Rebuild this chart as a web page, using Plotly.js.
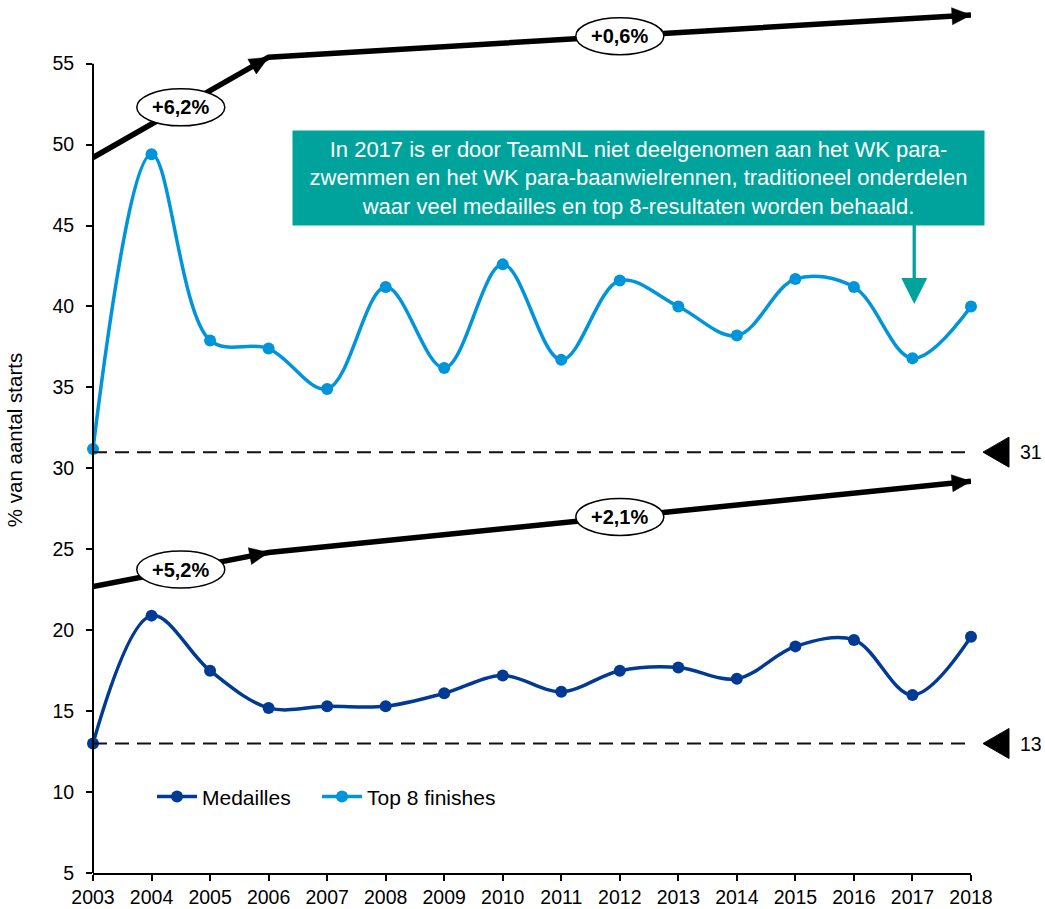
<!DOCTYPE html>
<html>
<head>
<meta charset="utf-8">
<script src="https://cdn.plot.ly/plotly-3.0.1.min.js"></script>
<style>html,body{margin:0;padding:0;background:#fff;}#chart{width:1045px;height:909px;}</style>
</head>
<body>
<div id="chart"></div>
<script>
// ---- data ----
const years = [2003, 2004, 2005, 2006, 2007, 2008, 2009, 2010, 2011, 2012, 2013, 2014, 2015, 2016, 2017, 2018];
const medailles = [13.0, 20.9, 17.5, 15.2, 15.3, 15.3, 16.1, 17.2, 16.2, 17.5, 17.7, 17.0, 19.0, 19.4, 16.0, 19.6];
const top8 = [31.2, 49.4, 37.9, 37.4, 34.9, 41.2, 36.2, 42.6, 36.7, 41.6, 40.0, 38.2, 41.7, 41.2, 36.8, 40.0];
const seriesNames = ['Medailles', 'Top 8 finishes'];

const trendYears = [2003, 2006, 2018];
const topTrend = [49.2, 55.4, 58.0];
const bottomTrend = [22.7, 24.8, 29.2];
const topTrendLabels = ['+6,2%', '+0,6%'];
const bottomTrendLabels = ['+5,2%', '+2,1%'];

const thresholds = [31, 13];

const yTicks = [5, 10, 15, 20, 25, 30, 35, 40, 45, 50, 55];
const yTitle = '% van aantal starts';
const noteText = 'In 2017 is er door TeamNL niet deelgenomen aan het WK para-<br>zwemmen en het WK para-baanwielrennen, traditioneel onderdelen<br>waar veel medailles en top 8-resultaten worden behaald.';

// ---- styles / geometry ----
const FONT = 'Liberation Sans, Arial, sans-serif';
const darkBlue = '#003A94';
const lightBlue = '#0094DB';
const teal = '#00A39C';
const W = 1045, H = 909;
const margin = {l: 93, r: 74, t: 7, b: 36};
const xRange = [years[0], years[years.length - 1]];
const yRange = [5, 58.5];
const pxPerX = (W - margin.l - margin.r) / (xRange[1] - xRange[0]);
const pxPerY = (H - margin.t - margin.b) / (yRange[1] - yRange[0]);

const traces = [
  {
    x: years, y: medailles, name: seriesNames[0], type: 'scatter', mode: 'lines+markers', legend: 'legend',
    line: {color: darkBlue, width: 3.5, shape: 'spline', smoothing: 1},
    marker: {color: darkBlue, size: 12}, cliponaxis: false
  },
  {
    x: years, y: top8, name: seriesNames[1], type: 'scatter', mode: 'lines+markers', legend: 'legend2',
    line: {color: lightBlue, width: 3.5, shape: 'spline', smoothing: 1},
    marker: {color: lightBlue, size: 12}, cliponaxis: false
  }
];

const shapes = [];
const annotations = [];

function trendTrace(vals) {
  return {
    x: trendYears, y: vals, type: 'scatter', mode: 'lines', showlegend: false, hoverinfo: 'skip',
    line: {color: '#000', width: 5.5, backoff: 8},
    cliponaxis: false
  };
}
traces.push(trendTrace(topTrend));
traces.push(trendTrace(bottomTrend));

// arrowheads at segment ends
function arrowHeads(vals) {
  const L = 19, HW = 8.5;
  for (let i = 1; i < trendYears.length; i++) {
    const dx = (trendYears[i] - trendYears[i - 1]) * pxPerX;
    const dy = (vals[i] - vals[i - 1]) * pxPerY;
    const len = Math.hypot(dx, dy);
    const ux = dx / len, uy = dy / len;
    const bx = -L * ux, by = -L * uy;
    const p1x = bx - HW * uy, p1y = by + HW * ux;
    const p2x = bx + HW * uy, p2y = by - HW * ux;
    shapes.push({type: 'path', xref: 'x', yref: 'y', xsizemode: 'pixel', ysizemode: 'pixel',
      xanchor: trendYears[i], yanchor: vals[i],
      path: `M0,0 L${p1x.toFixed(2)},${p1y.toFixed(2)} L${p2x.toFixed(2)},${p2y.toFixed(2)} Z`,
      fillcolor: '#000', line: {color: '#000', width: 0.5}, layer: 'above'});
  }
}
arrowHeads(topTrend);
arrowHeads(bottomTrend);

// y axis line from 5 to 55
shapes.push({type: 'line', xref: 'paper', yref: 'y', x0: 0, x1: 0, y0: yTicks[0], y1: yTicks[yTicks.length - 1],
  line: {color: '#000', width: 2}});

// threshold dashed lines with markers
thresholds.forEach(t => {
  shapes.push({type: 'line', xref: 'x', yref: 'y', x0: years[0], x1: years[years.length - 1] + 0.07, y0: t, y1: t,
    line: {color: '#111', width: 2, dash: '14px,8px'}});
  shapes.push({type: 'path', xref: 'paper', yref: 'y', xsizemode: 'pixel', ysizemode: 'pixel',
    xanchor: 1, yanchor: t, path: 'M12,0 L38,15 L38,-15 Z',
    fillcolor: '#000', line: {color: '#000', width: 1}});
  annotations.push({x: years[years.length - 1], y: t, xref: 'x', yref: 'y', xshift: 60, text: String(t),
    showarrow: false, font: {family: FONT, size: 19.5, color: '#000'}});
});

// trend labels (ellipses at segment midpoints)
function trendLabels(vals, labels) {
  for (let i = 0; i < labels.length; i++) {
    const mx = (trendYears[i] + trendYears[i + 1]) / 2;
    const my = (vals[i] + vals[i + 1]) / 2;
    shapes.push({type: 'circle', xref: 'x', yref: 'y', xsizemode: 'pixel', ysizemode: 'pixel',
      xanchor: mx, yanchor: my, x0: -44, x1: 44, y0: -18.5, y1: 18.5,
      fillcolor: '#fff', line: {color: '#000', width: 1.5}, layer: 'above'});
    annotations.push({x: mx, y: my, xref: 'x', yref: 'y', text: '<b>' + labels[i] + '</b>', showarrow: false,
      font: {family: FONT, size: 20, color: '#000'}});
  }
}
trendLabels(topTrend, topTrendLabels);
trendLabels(bottomTrend, bottomTrendLabels);

// note box
annotations.push({x: 2012.32, y: 47.96, xref: 'x', yref: 'y', xanchor: 'center', yanchor: 'middle',
  text: noteText, showarrow: false, bgcolor: teal, width: 691, height: 94, borderpad: 0, align: 'center',
  font: {family: FONT, size: 22, color: '#fff'}});
// note arrow
shapes.push({type: 'line', xref: 'x', yref: 'y', x0: 2017.03, x1: 2017.03, y0: 45.07, y1: 41.7,
  line: {color: teal, width: 3.3}});
shapes.push({type: 'path', xref: 'x', yref: 'y', xsizemode: 'pixel', ysizemode: 'pixel',
  xanchor: 2017.03, yanchor: 40.15, path: 'M0,0 L-13,26 L13,26 Z', fillcolor: teal, line: {color: teal, width: 0}});

const legendBase = {orientation: 'h', y: 0.088, xanchor: 'left', yanchor: 'middle', itemwidth: 40,
  font: {family: FONT, size: 21, color: '#000'}, bgcolor: 'rgba(0,0,0,0)'};

const layout = {
  width: W, height: H,
  margin: margin,
  paper_bgcolor: '#fff', plot_bgcolor: '#fff',
  font: {family: FONT, size: 19, color: '#000'},
  showlegend: true,
  legend: Object.assign({}, legendBase, {x: 0.0672}),
  legend2: Object.assign({}, legendBase, {x: 0.2551}),
  xaxis: {range: xRange, tickmode: 'array', tickvals: years, ticktext: years.map(String),
    showgrid: false, zeroline: false, showline: true, linecolor: '#000', linewidth: 2,
    ticks: 'outside', ticklen: 6, tickwidth: 2, tickcolor: '#000',
    tickfont: {family: FONT, size: 19.5, color: '#000'}},
  yaxis: {range: yRange, tickmode: 'array', tickvals: yTicks, ticktext: yTicks.map(String),
    showgrid: false, zeroline: false, showline: false,
    ticks: 'outside', ticklen: 6, tickwidth: 2, tickcolor: '#000', ticklabelstandoff: 8,
    tickfont: {family: FONT, size: 19.5, color: '#000'},
    title: {text: yTitle, font: {family: FONT, size: 20.5, color: '#000'}, standoff: 24}},
  shapes: shapes,
  annotations: annotations
};

Plotly.newPlot('chart', traces, layout, {displayModeBar: false, staticPlot: true});
</script>
</body>
</html>
